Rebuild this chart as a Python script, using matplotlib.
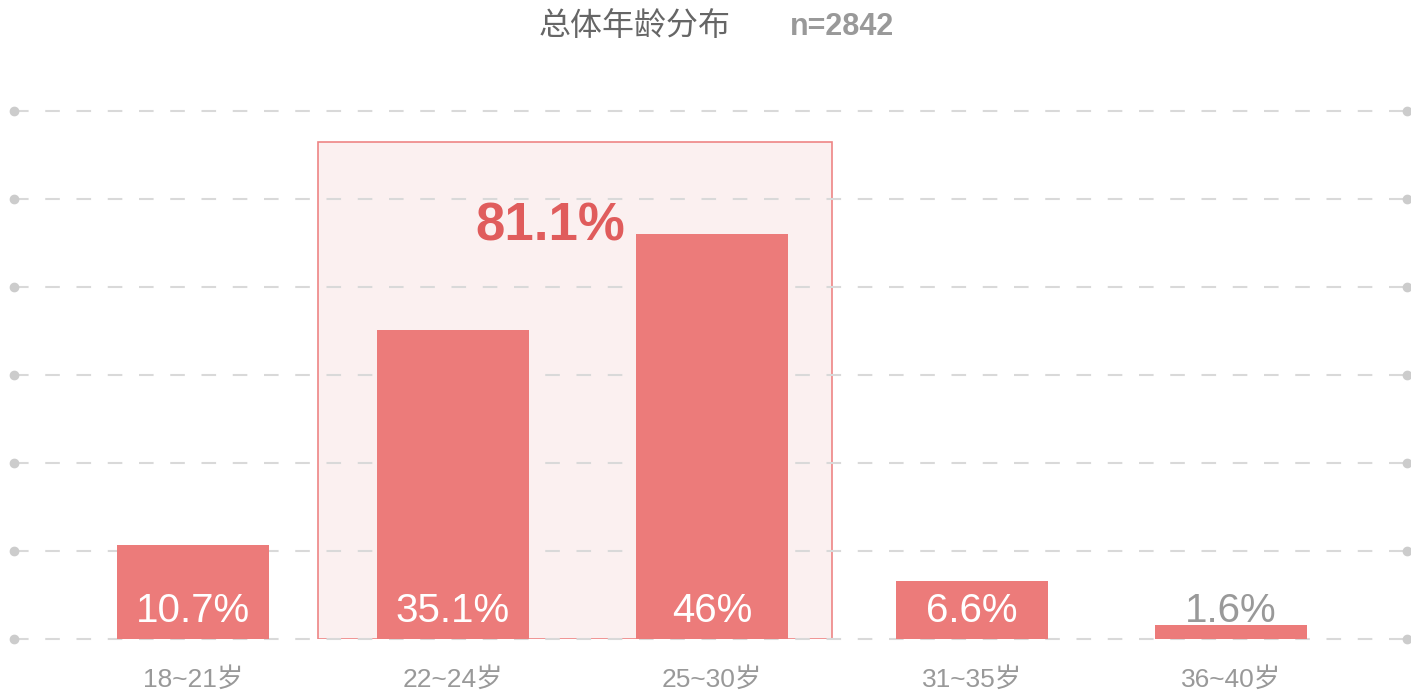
import matplotlib
matplotlib.use("Agg")
import matplotlib.pyplot as plt
from matplotlib.patches import Rectangle

categories = ["18~21岁", "22~24岁", "25~30岁", "31~35岁", "36~40岁"]
values = [10.7, 35.1, 46, 6.6, 1.6]
labels = ["10.7%", "35.1%", "46%", "6.6%", "1.6%"]
highlight_label = "81.1%"
title = "总体年龄分布"
n_label = "n=2842"
gridvals = [0, 10, 20, 30, 40, 50, 60]

FAM = ["Liberation Sans", "Noto Sans CJK SC", "DejaVu Sans"]
plt.rcParams["font.family"] = FAM

fig = plt.figure(figsize=(14.11, 6.91), dpi=100)
ax = fig.add_axes([14 / 1411, 52 / 691, (1407 - 14) / 1411, 528 / 691])
ax.set_xlim(-0.69, 4.678)
ax.set_ylim(0, 60)
for s in ax.spines.values():
    s.set_visible(False)
ax.set_yticks([])

# highlight box
ax.add_patch(Rectangle((0.482, 0), 2.462 - 0.482, 56.5, facecolor="#FBF0F0",
                       edgecolor="#EE8585", linewidth=1.2, zorder=0))

# gridlines with end dots
for g in gridvals:
    ax.plot([-0.69, 4.678], [g, g], color="#D9D9D9", lw=1.5,
            dashes=(7, 8), zorder=1, clip_on=False)
    ax.plot([-0.69, 4.678], [g, g], "o", color="#CCCCCC", ms=6,
            zorder=1, clip_on=False)

x = list(range(len(categories)))
ax.bar(x, values, width=0.586, color="#EC7B7A", zorder=2)

for i, (v, lab) in enumerate(zip(values, labels)):
    col = "white" if v > 5 else "#999999"
    ax.annotate(lab, xy=(i, 0), xytext=(0, 17), textcoords="offset pixels",
                ha="center", va="baseline", fontsize=29, color=col, zorder=3)

ax.text(1.665, 45.3, highlight_label, ha="right", va="baseline",
        fontsize=38, fontweight="bold", color="#E05C5C", zorder=3)

ax.set_xticks(x)
ax.set_xticklabels(categories, fontsize=19, color="#999999")
ax.tick_params(axis="x", length=0, pad=20)

fig.text(635 / 1411, 1 - 27 / 691, title, ha="center", va="center",
         fontsize=23, color="#666666")
fig.text(790 / 1411, 1 - 27 / 691, n_label, ha="left", va="center",
         fontsize=22, fontweight="bold", color="#999999")

fig.savefig("out.png", dpi=100)
